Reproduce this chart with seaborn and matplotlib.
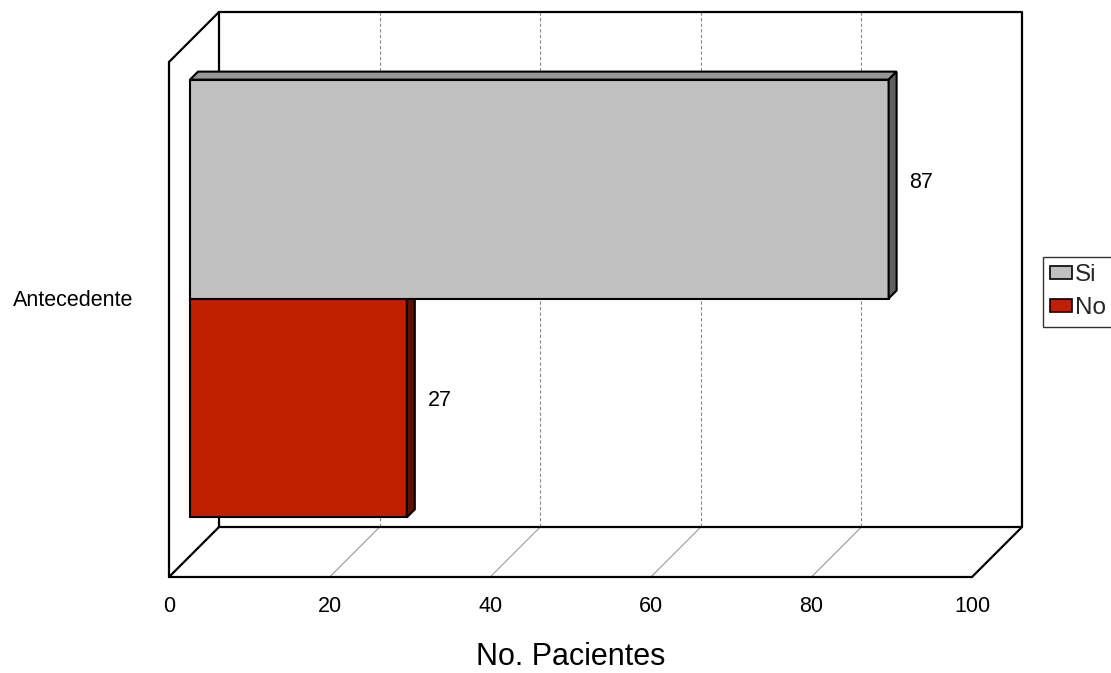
import matplotlib
matplotlib.use("Agg")
import matplotlib.pyplot as plt
from matplotlib.patches import Polygon, Patch
import seaborn as sns
import pandas as pd

# Data
categories = ["Antecedente"]
series = ["Si", "No"]
values = [87, 27]
face_colors = ["#C0C0C0", "#C02000"]
top_colors = ["#969696", "#801500"]
side_colors = ["#606060", "#601000"]
x_ticks = [0, 20, 40, 60, 80, 100]

sns.set_theme(style="white")
plt.rcParams["font.family"] = ["Liberation Sans", "DejaVu Sans"]

W, H = 1111, 673
fig = plt.figure(figsize=(W / 100, H / 100), dpi=100)
# Axes frame is the front plane of the 3D box
ax_left, ax_top, ax_w, ax_h = 169, 62, 803, 515
ax = fig.add_axes([ax_left / W, 1 - (ax_top + ax_h) / H, ax_w / W, ax_h / H])

df = pd.DataFrame({
    "Categoria": categories * len(series),
    "Respuesta": series,
    "Pacientes": values,
})
sns.barplot(data=df, x="Pacientes", y="Categoria", hue="Respuesta",
            hue_order=series, palette=face_colors, saturation=1,
            width=0.85, orient="h", edgecolor="black", linewidth=1.5,
            legend=False, ax=ax)

ax.set_xlim(0, 100)
ax.set_ylim(0.5, -0.5)
ux = 100 / ax_w       # data units per pixel (x)
uy = 1.0 / ax_h       # data units per pixel (y, downward positive)

# depth offsets in pixels
bar_front = 21
bar_depth = 8
back = 50

def shift(depth_px):
    return depth_px * ux, -depth_px * uy

# Box walls and floor
bx, by = shift(back)
wall_kw = dict(color="black", lw=1.6, clip_on=False, zorder=1, solid_capstyle="round")
y_top, y_bot = -0.5, 0.5
ax.plot([bx, 100 + bx, 100 + bx, bx, bx],
        [y_top + by, y_top + by, y_bot + by, y_bot + by, y_top + by], **wall_kw)
ax.plot([0, 0], [y_top, y_bot], **wall_kw)
ax.plot([0, bx], [y_top, y_top + by], **wall_kw)
ax.plot([0, bx], [y_bot, y_bot + by], **wall_kw)
ax.plot([0, 100], [y_bot, y_bot], **wall_kw)
ax.plot([100, 100 + bx], [y_bot, y_bot + by], **wall_kw)

# Gridlines on the back wall and floor
for v in x_ticks[1:-1]:
    ax.plot([v + bx, v + bx], [y_top + by, y_bot + by], color="#8a8a8a",
            lw=0.8, ls=(0, (3, 2)), clip_on=False, zorder=0.8)
    ax.plot([v, v + bx], [y_bot, y_bot + by], color="#9a9a9a",
            lw=0.8, clip_on=False, zorder=0.8)

# Move bars into their depth plane and add top and side faces
fx, fy = shift(bar_front)
dx, dy = shift(bar_depth)
bars = list(ax.patches)
z_by_series = {0: 4, 1: 3}
for i, bar in enumerate(bars):
    bar.set_x(bar.get_x() + fx)
    bar.set_y(bar.get_y() + fy)
    bar.set_zorder(z_by_series[i])
    x0 = bar.get_x()
    x1 = x0 + bar.get_width()
    y0 = bar.get_y()
    y1 = y0 + bar.get_height()
    top = Polygon([(x0, y0), (x1, y0), (x1 + dx, y0 + dy), (x0 + dx, y0 + dy)],
                  closed=True, facecolor=top_colors[i], edgecolor="black",
                  lw=1.5, zorder=z_by_series[i], clip_on=False)
    side = Polygon([(x1, y0), (x1 + dx, y0 + dy), (x1 + dx, y1 + dy), (x1, y1)],
                   closed=True, facecolor=side_colors[i], edgecolor="black",
                   lw=1.5, zorder=z_by_series[i], clip_on=False)
    ax.add_patch(top)
    ax.add_patch(side)
    ax.annotate(f"{values[i]}", xy=(x1, (y0 + y1) / 2), xytext=(15, 5),
                textcoords="offset points", ha="left", va="center",
                fontsize=15.5, color="black", zorder=6)

# Axes styling
for s in ax.spines.values():
    s.set_visible(False)
ax.patch.set_visible(False)
ax.set_xticks(x_ticks)
ax.set_xticklabels([str(t) for t in x_ticks])
ax.set_yticks([fy])
ax.set_yticklabels(categories)
ax.tick_params(axis="x", length=0, pad=14, labelsize=15.5, colors="black")
ax.tick_params(axis="y", length=0, pad=26, labelsize=15.5, colors="black")
ax.set_ylabel("")
ax.set_xlabel("No. Pacientes", fontsize=22, labelpad=18, color="black")
ax.grid(False)

handles = [Patch(facecolor=c, edgecolor="black", lw=1.2) for c in face_colors]
leg = fig.legend(handles, series, loc="upper left",
                 bbox_to_anchor=(1043 / W, 1 - 257 / H), fontsize=17.5,
                 frameon=True, fancybox=False, edgecolor="black",
                 handlelength=0.9, handleheight=0.45, handletextpad=0.12,
                 borderpad=0.3, borderaxespad=0, labelspacing=0.45)
leg.get_frame().set_linewidth(1.0)

fig.savefig("out.png", dpi=100)
